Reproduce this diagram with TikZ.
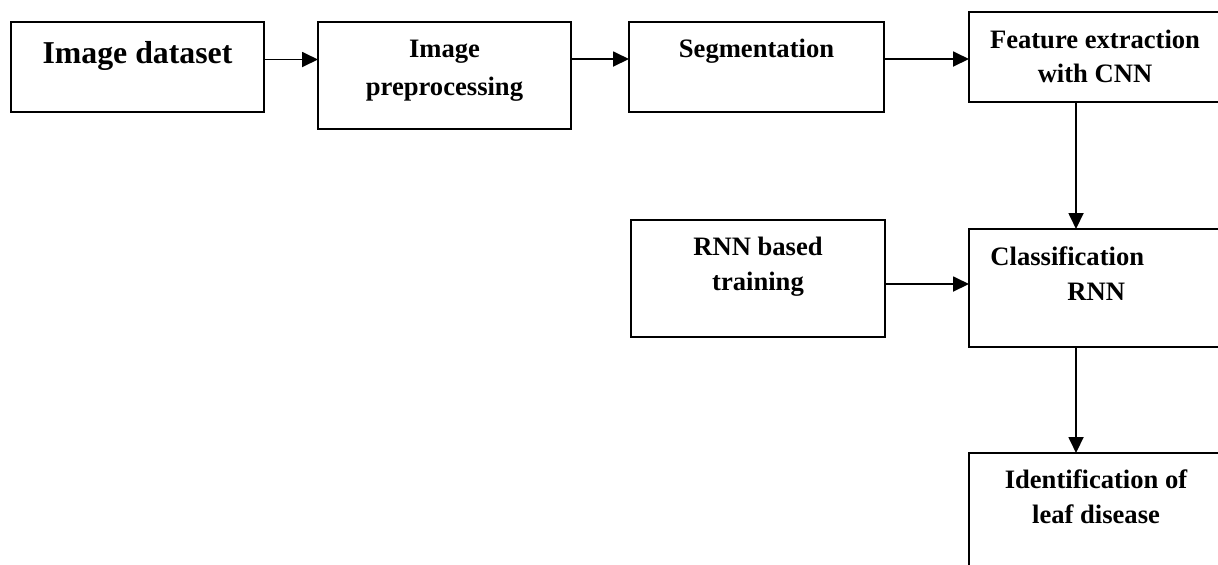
\documentclass[tikz,border=0pt]{standalone}
\usepackage{fontspec}
\setmainfont{Liberation Serif}
\usetikzlibrary{arrows.meta,calc}
\begin{document}
\begin{tikzpicture}[x=0.5pt,y=-0.5pt,
  box/.style={draw,line width=1pt,rectangle,inner sep=0pt,outer sep=0pt},
  lbl/.style={font=\fontsize{13.3}{16}\selectfont\bfseries,inner sep=0pt,anchor=base},
  big/.style={font=\fontsize{15.9}{19}\selectfont\bfseries,inner sep=0pt,anchor=base},
  arr/.style={line width=0.9pt,-{Triangle[length=8pt,width=7.5pt]}}]
\useasboundingbox (0,0) rectangle (1218,564);
\clip (0,0) rectangle (1218,564);
% boxes
\node[box,minimum width=126.5pt,minimum height=45pt] (B1) at (137.5,67) {};
\node[box,minimum width=126.5pt,minimum height=53.5pt] (B2) at (444.5,75.5) {};
\node[box,minimum width=127.5pt,minimum height=45pt] (B3) at (756.5,67) {};
\node[box,minimum width=126.5pt,minimum height=45pt] (B4) at (1095.5,57) {};
\node[box,minimum width=127pt,minimum height=58.5pt] (B5) at (758,278.5) {};
\node[box,minimum width=126.5pt,minimum height=59pt] (B6) at (1095.5,288) {};
\node[box,minimum width=126.5pt,minimum height=73.5pt] (B7) at (1095.5,526.5) {};
% texts
\node[big] (t1) at (137.5,63) {Image dataset};
\node[lbl] (t2a) at (444.5,57) {Image};
\node[lbl] (t2b) at (444.5,95) {preprocessing};
\node[lbl] (t3) at (756.5,57) {Segmentation};
\node[lbl] (t4a) at (1095,48) {Feature extraction};
\node[lbl] (t4b) at (1095,82) {with CNN};
\node[lbl] (t5a) at (758,255) {RNN based};
\node[lbl] (t5b) at (758,290) {training};
\node[lbl,anchor=base west] (t6a) at (990,265) {Classification};
\node[lbl,anchor=base west] (t6b) at (1067,300) {RNN};
\node[lbl] (t7a) at (1096,488) {Identification of};
\node[lbl] (t7b) at (1096,523) {leaf disease};
% connectors
\draw[arr] ($(B1.east)+(0,-7.5)$) coordinate (p1) -- (p1 -| B2.west);
\draw[arr] ($(B2.north east)+(0,37)$) coordinate (p2) -- (p2 -| B3.west);
\draw[arr] ($(B3.north east)+(0,37)$) coordinate (p3) -- (p3 -| B4.west);
\draw[arr] ($(B4.south west)+(107,0)$) coordinate (p4) -- (p4 |- B6.north);
\draw[arr] ($(B5.north east)+(0,64)$) coordinate (p5) -- (p5 -| B6.west);
\draw[arr] ($(B6.south west)+(107,0)$) coordinate (p6) -- (p6 |- B7.north);
\end{tikzpicture}
\end{document}
